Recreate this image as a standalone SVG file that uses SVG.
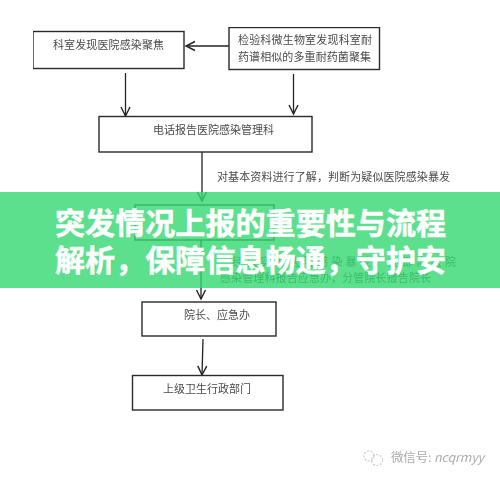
<svg xmlns="http://www.w3.org/2000/svg" width="500" height="480" viewBox="0 0 500 480">
<defs>
<marker id="a" markerUnits="userSpaceOnUse" markerWidth="14" markerHeight="14" refX="11" refY="6" orient="auto"><path d="M2 1.500L11 6L2 10.500" fill="none" stroke="#222" stroke-width="1.400"/></marker>
<filter id="soft" x="0" y="0" width="100%" height="100%"><feGaussianBlur stdDeviation="0.35"/></filter>
</defs>
<style>
text{font-family:"Noto Sans CJK SC","Liberation Sans",sans-serif}
.box{fill:#fff;stroke:#2a2a2a;stroke-width:1.400}
.t{font-size:11px;fill:#4a4a4a}
.c{fill:none;stroke:#222;stroke-width:1.300;marker-end:url(#a)}
.title{font-size:30px;font-weight:700;fill:#fff;stroke:#fff;stroke-width:.5}
</style>
<rect width="500" height="480" fill="#fff"/>
<g filter="url(#soft)">
<g id="connectors">
<path class="c" d="M229 46H186"/>
<path class="c" d="M125.500 73V116"/>
<path class="c" d="M293.500 74V114"/>
<path class="c" d="M202 152V201"/>
<path class="c" d="M201 240V299"/>
<path class="c" d="M203 339L202 375"/>
</g>
<g id="n1"><rect class="box" x="33" y="31.500" width="151" height="37"/><text class="t" x="53" y="49" textLength="111">科室发现医院感染聚焦</text></g>
<g id="n2"><rect class="box" x="229" y="27.500" width="150.500" height="42"/><text class="t" x="238" y="44" textLength="134">检验科微生物室发现科室耐</text><text class="t" x="238" y="61" textLength="133">药谱相似的多重耐药菌聚集</text></g>
<g id="n3"><rect class="box" x="99" y="116.500" width="213" height="35.500"/><text class="t" x="153" y="134" textLength="121">电话报告医院感染管理科</text></g>
<g id="n4"><rect class="box" x="135" y="205" width="139" height="35"/></g>
<g id="n5"><rect class="box" x="142" y="302" width="134" height="34"/><text class="t" x="184" y="319" textLength="66">院长、应急办</text></g>
<g id="n6"><rect class="box" x="132.500" y="375.500" width="150.500" height="34.500"/><text class="t" x="163" y="393" textLength="88">上级卫生行政部门</text></g>
<g id="notes">
<text class="t" x="217" y="181" textLength="233">对基本资料进行了解&#xFF0C;判断为疑似医院感染暴发</text>
<text class="t" x="232" y="266" textLength="224">经核实为医院感染暴发&#xFF0C;立即向医院</text>
<text class="t" x="220" y="282" textLength="211">感染管理科报告应急办&#xFF0C;分管院长报告院长</text>
</g>
<g id="watermark" fill="none" stroke="#ccc" stroke-width="1.200" stroke-dasharray="2 1.500"><circle cx="369" cy="456" r="5"/><circle cx="377" cy="460" r="5.500"/></g>
<text x="391" y="462" font-size="12.500" fill="#aaa" textLength="93">微信号: <tspan font-style="italic">ncqrmyy</tspan></text>
</g>
<rect id="banner" x="0" y="192" width="500" height="96" fill="#33d872" fill-opacity="0.8"/>
<g id="title"><text class="title" x="55" y="234" textLength="391">突发情况上报的重要性与流程</text><text class="title" x="55" y="271" textLength="391">解析&#xFF0C;保障信息畅通&#xFF0C;守护安</text></g>
</svg>
